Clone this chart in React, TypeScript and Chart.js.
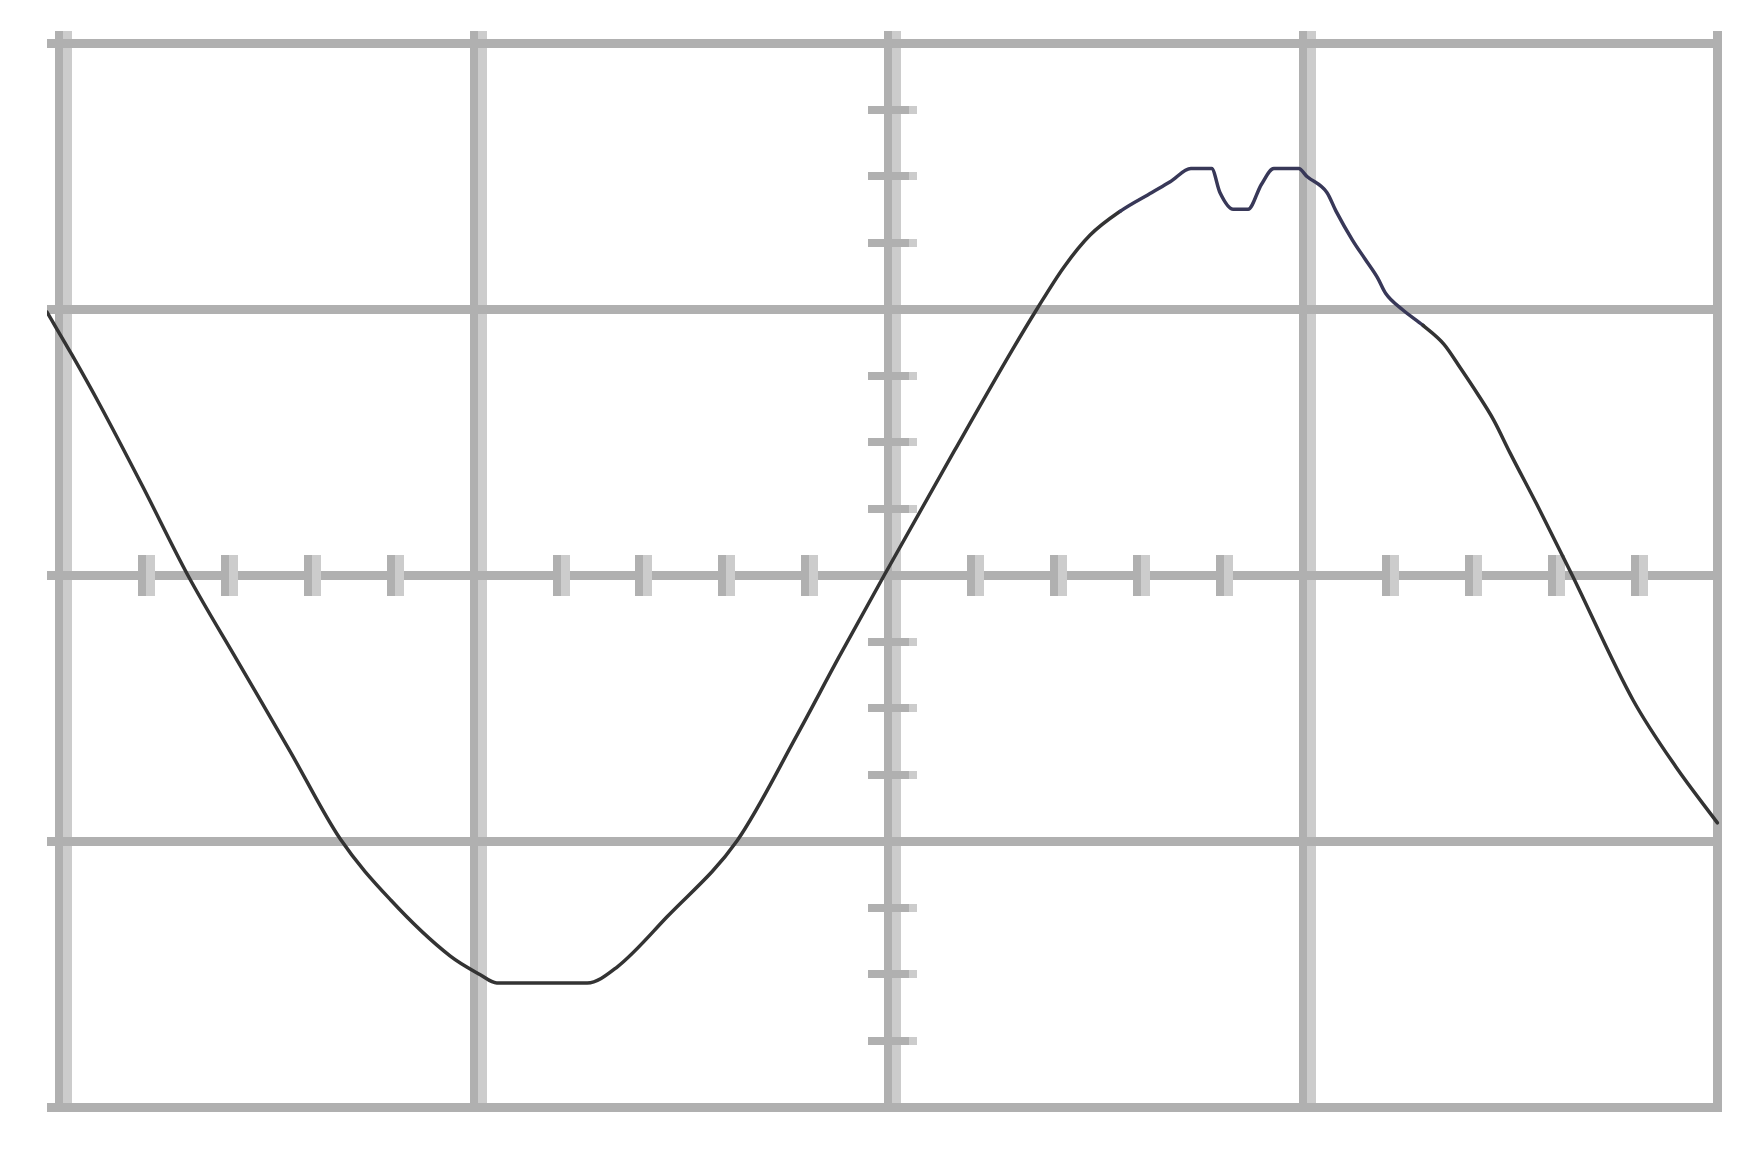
import React, { useEffect, useRef } from "react";
import { Chart, registerables } from "chart.js";

Chart.register(...registerables);

// Trace (oscilloscope-like waveform), in grid divisions
const TRACE_X = [
  -0.029, 0.031, 0.099, 0.2, 0.311, 0.43, 0.557, 0.678, 0.8, 0.943, 1.015, 1.056,
  1.274, 1.346, 1.466, 1.635, 1.78, 1.88, 1.99, 2.16, 2.3, 2.358, 2.424, 2.487,
  2.56, 2.636, 2.68, 2.73, 2.78, 2.8, 2.832, 2.868, 2.9, 2.93, 2.99, 3.01, 3.058,
  3.08, 3.12, 3.15, 3.18, 3.2, 3.24, 3.29, 3.34, 3.38, 3.42, 3.46, 3.5, 3.57, 3.65,
  3.797, 3.9, 4.0,
];
const TRACE_Y = [
  0.99, 0.83, 0.64, 0.34, 0.0, -0.32, -0.66, -0.99, -1.22, -1.43, -1.5, -1.532,
  -1.532, -1.472, -1.284, -0.998, -0.6, -0.31, 0.0, 0.47, 0.85, 1.0, 1.16, 1.28,
  1.37, 1.44, 1.48, 1.53, 1.53, 1.44, 1.377, 1.377, 1.47, 1.53, 1.53, 1.5, 1.44,
  1.37, 1.26, 1.19, 1.12, 1.06, 1.0, 0.94, 0.87, 0.78, 0.686, 0.585, 0.46, 0.25, 0.0,
  -0.47, -0.72, -0.93,
];

// Major grid divisions
const GRID_X = [0, 1, 2, 3, 4];
const GRID_Y = [-2, -1, 0, 1, 2];
// Minor graticule marks on the centre axes
const MINOR_X = [0.2, 0.4, 0.6, 0.8, 1.2, 1.4, 1.6, 1.8, 2.2, 2.4, 2.6, 2.8, 3.2, 3.4, 3.6, 3.8];
const MINOR_Y = [-1.75, -1.5, -1.25, -0.75, -0.5, -0.25, 0.25, 0.5, 0.75, 1.25, 1.5, 1.75];
const CENTER_X = 2;
const CENTER_Y = 0;
// Highlighted (bluish) stretch of the trace
const BLUE_RANGE = [2.55, 3.25];

const GRID_DARK = "#b0b0b0";
const GRID_LIGHT = "#cccccc";

const graticulePlugin = {
  id: "graticule",
  beforeDraw(chart: any) {
    const { ctx, chartArea, scales } = chart;
    const xs = scales.x;
    ctx.save();
    ctx.fillStyle = GRID_LIGHT;
    GRID_X.slice(0, -1).forEach((v) => {
      const px = Math.round(xs.getPixelForValue(v));
      ctx.fillRect(px + 4, chartArea.top, 9, chartArea.bottom - chartArea.top);
    });
    ctx.restore();
  },
  beforeDatasetsDraw(chart: any) {
    const { ctx, scales } = chart;
    const xs = scales.x;
    const ys = scales.y;
    const cx = Math.round(xs.getPixelForValue(CENTER_X));
    const cy = Math.round(ys.getPixelForValue(CENTER_Y));
    ctx.save();
    MINOR_Y.forEach((v) => {
      const py = Math.round(ys.getPixelForValue(v));
      ctx.fillStyle = GRID_DARK;
      ctx.fillRect(cx - 20, py - 4, 41, 8);
      ctx.fillStyle = GRID_LIGHT;
      ctx.fillRect(cx + 21, py - 4, 8, 8);
    });
    MINOR_X.forEach((v) => {
      const px = Math.round(xs.getPixelForValue(v));
      ctx.fillStyle = GRID_DARK;
      ctx.fillRect(px - 4, cy - 20, 8, 41);
      ctx.fillStyle = GRID_LIGHT;
      ctx.fillRect(px + 4, cy - 20, 9, 41);
    });
    ctx.restore();
  },
};

export default function App() {
  const ref = useRef<HTMLCanvasElement | null>(null);

  useEffect(() => {
    if (!ref.current) return;
    const data = TRACE_X.map((x, i) => ({ x, y: TRACE_Y[i] }));
    const chart = new Chart(ref.current, {
      type: "line",
      data: {
        datasets: [
          {
            data,
            borderColor: "#333333",
            borderWidth: 3.5,
            pointRadius: 0,
            cubicInterpolationMode: "monotone",
            borderJoinStyle: "round",
            borderCapStyle: "round",
            segment: {
              borderColor: (c: any) => {
                const x = c.p0.parsed.x;
                return x >= BLUE_RANGE[0] && x < BLUE_RANGE[1] ? "#383858" : "#333333";
              },
            },
          },
        ],
      },
      options: {
        animation: false,
        responsive: true,
        maintainAspectRatio: false,
        devicePixelRatio: 1,
        layout: { padding: { left: 47, right: 37, top: 31, bottom: 45 } },
        plugins: { legend: { display: false }, tooltip: { enabled: false } },
        scales: {
          x: {
            type: "linear",
            min: -0.029,
            max: 4.011,
            afterBuildTicks: (axis: any) => {
              axis.ticks = GRID_X.map((v) => ({ value: v }));
            },
            ticks: { display: false },
            border: { display: false },
            grid: {
              color: GRID_DARK,
              lineWidth: (c: any) => (c.tick && c.tick.value === 4 ? 9 : 8),
              drawTicks: false,
              z: -2,
            },
          },
          y: {
            type: "linear",
            min: -2.017,
            max: 2.047,
            afterBuildTicks: (axis: any) => {
              axis.ticks = GRID_Y.map((v) => ({ value: v }));
            },
            ticks: { display: false },
            border: { display: false },
            grid: { color: GRID_DARK, lineWidth: 9, drawTicks: false, z: -1 },
          },
        },
      } as any,
      plugins: [graticulePlugin],
    });
    return () => chart.destroy();
  }, []);

  return (
    <div
      style={{
        position: "fixed",
        left: 0,
        top: 0,
        width: 1759,
        height: 1157,
        background: "#ffffff",
      }}
    >
      <canvas ref={ref} style={{ display: "block" }} />
    </div>
  );
}
